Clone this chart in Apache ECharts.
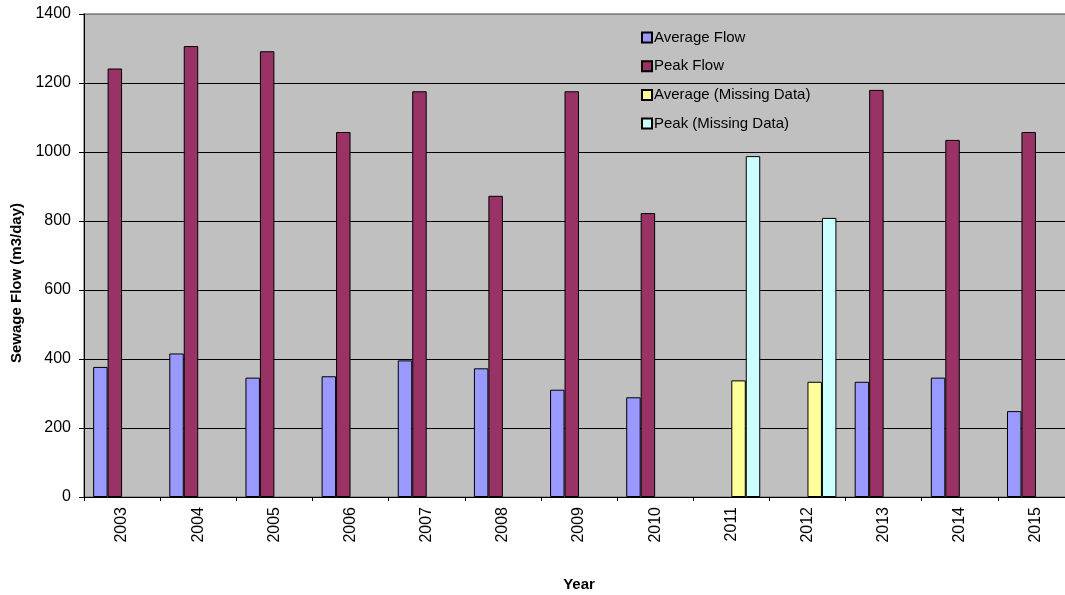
<!DOCTYPE html>
<html>
<head>
<meta charset="utf-8">
<script src="https://cdn.jsdelivr.net/npm/echarts@6/dist/echarts.min.js"></script>
<style>
  html, body { margin: 0; padding: 0; background: #fff; }
  #chart { width: 1065px; height: 595px; }
</style>
</head>
<body>
<div id="chart"></div>
<script>
// Sewage flow by year (m3/day)
const years = ['2003','2004','2005','2006','2007','2008','2009','2010','2011','2012','2013','2014','2015'];
const averageFlow = [377, 416, 346, 350, 396, 373, 311, 289, null, null, 334, 346, 249];
const peakFlow = [1242, 1307, 1292, 1058, 1176, 873, 1176, 823, null, null, 1180, 1035, 1058];
const averageMissing = [null, null, null, null, null, null, null, null, 338, 334, null, null, null];
const peakMissing = [null, null, null, null, null, null, null, null, 988, 809, null, null, null];
const yTicks = { min: 0, max: 1400, interval: 200 };

const font = 'Liberation Sans, Arial, sans-serif';

function barSeries(name, data, color) {
  return {
    name: name,
    type: 'bar',
    data: data,
    barGap: '0%',
    barCategoryGap: '24%',
    itemStyle: { color: color, borderColor: '#000', borderWidth: 1 }
  };
}

const chart = echarts.init(document.getElementById('chart'), null, { renderer: 'canvas' });
chart.setOption({
  animation: false,
  backgroundColor: '#ffffff',
  grid: {
    left: 84, top: 14, width: 990, bottom: 98,
    containLabel: false,
    outerBoundsMode: 'none',
    show: true, backgroundColor: '#C0C0C0', borderColor: '#808080', borderWidth: 1.5
  },
  legend: {
    orient: 'vertical',
    left: 641, top: 29.5,
    padding: 0,
    itemWidth: 10, itemHeight: 10, itemGap: 12.7,
    selectedMode: false,
    icon: 'rect',
    textStyle: { fontFamily: font, fontSize: 15, color: '#000', lineHeight: 16, padding: [0, 0, 0, -3] },
    data: ['Average Flow', 'Peak Flow', 'Average (Missing Data)', 'Peak (Missing Data)']
  },
  xAxis: {
    type: 'category',
    data: years,
    name: 'Year',
    nameLocation: 'middle',
    nameGap: 80,
    nameTextStyle: { fontFamily: font, fontSize: 15, fontWeight: 'bold', color: '#000' },
    axisLine: { lineStyle: { color: '#000', width: 1 } },
    axisTick: { show: true, length: 4, lineStyle: { color: '#000' } },
    axisLabel: { rotate: 90, margin: 10, fontFamily: font, fontSize: 16, color: '#000' },
    splitLine: { show: false }
  },
  yAxis: {
    type: 'value',
    min: yTicks.min, max: yTicks.max, interval: yTicks.interval,
    name: 'Sewage Flow (m3/day)',
    nameLocation: 'middle',
    nameGap: 60,
    nameTextStyle: { fontFamily: font, fontSize: 15, fontWeight: 'bold', color: '#000', padding: [0, 0, 0, -55] },
    axisLine: { show: true, lineStyle: { color: '#000', width: 1 } },
    axisTick: { show: true, length: 5, lineStyle: { color: '#000' } },
    axisLabel: { margin: 13, fontFamily: font, fontSize: 16, color: '#000', formatter: function (v) { return String(v); } },
    splitLine: { show: true, lineStyle: { color: ['#000','#000','#000','#000','#000','#000','#000','#808080'], width: 1 } }
  },
  series: [
    barSeries('Average Flow', averageFlow, '#9999FF'),
    barSeries('Peak Flow', peakFlow, '#993366'),
    barSeries('Average (Missing Data)', averageMissing, '#FFFF99'),
    barSeries('Peak (Missing Data)', peakMissing, '#CCFFFF')
  ]
});
</script>
</body>
</html>
